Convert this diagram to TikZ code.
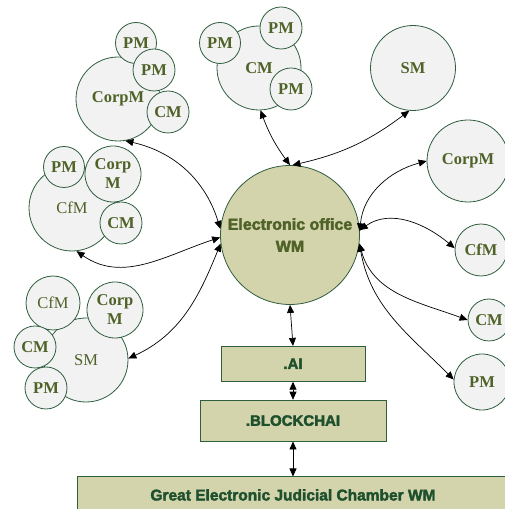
\documentclass[tikz,border=0pt]{standalone}
\usepackage{fontspec}
\setmainfont{Liberation Serif}
\setsansfont{Liberation Sans}[BoldFeatures={FakeBold=2.5}]
\usetikzlibrary{positioning,arrows.meta}
\definecolor{olivefill}{RGB}{211,211,172}
\definecolor{greyfill}{RGB}{242,242,242}
\definecolor{rimgreen}{RGB}{47,94,63}
\definecolor{olivetext}{RGB}{79,98,40}
\definecolor{boxtext}{RGB}{30,80,45}

\begin{document}
\begin{tikzpicture}[
	x=1pt, y=1pt,
	hub/.style = {circle, draw=rimgreen, fill=olivefill, line width=0.8pt, minimum size=139pt, inner sep=0pt, align=center, text=olivetext, font=\sffamily\bfseries\fontsize{16}{22}\selectfont},
	member/.style = {circle, draw=rimgreen, fill=greyfill, line width=0.8pt, inner sep=0pt, align=center, text=olivetext, font=\fontsize{16.5}{19}\selectfont\bfseries},
	lightlabel/.style = {font=\fontsize{16.5}{19}\selectfont},
	layer/.style = {rectangle, draw=rimgreen, fill=olivefill, line width=0.8pt, inner sep=0pt, text=boxtext, font=\sffamily\bfseries\fontsize{15}{18}\selectfont},
	link/.style = {{Triangle[length=8pt,width=7pt]}-{Triangle[length=8pt,width=7pt]}, line width=0.7pt},
]
\useasboundingbox (0,0) rectangle (505,509);

% centre
\node[hub] (office) at (290,274) {Electronic office\\WM};
\node[layer, minimum width=144pt, minimum height=35pt] (ai) [below=41pt of office, xshift=3pt] {.AI};
\node[layer, minimum width=186pt, minimum height=41pt] (chain) [below=18pt of ai] {.BLOCKCHAI};
\node[layer, minimum width=432pt, minimum height=36pt, font=\sffamily\bfseries\fontsize{15.5}{18}\selectfont] (chamber) [below=35pt of chain] {Great Electronic Judicial Chamber WM};

% corporate cluster
\node[member, minimum size=84pt] (corpmA) at (118,410) {CorpM};
\node[member, minimum size=41pt] (pmA1) at (136,466) {PM};
\node[member, minimum size=42pt] (pmA2) at (154,439) {PM};
\node[member, minimum size=42pt] (cmA) at (168,397) {CM};

% fund cluster
\node[member, lightlabel, minimum size=86pt] (cfmB) at (72,301) {CfM};
\node[member, minimum size=41pt] (pmB) at (64,342) {PM};
\node[member, minimum size=56pt] (corpmB) at (113,335) {Corp\\M};
\node[member, minimum size=42pt] (cmB) at (121,286) {CM};

% state cluster
\node[member, lightlabel, minimum size=84pt] (smC) at (86,149) {SM};
\node[member, lightlabel, minimum size=54pt] (cfmC) at (53,206) {CfM};
\node[member, minimum size=56pt] (corpmC) at (115,199) {Corp\\M};
\node[member, minimum size=42pt] (cmC) at (35,162) {CM};
\node[member, minimum size=42pt] (pmC) at (46,121) {PM};

% municipal cluster
\node[member, minimum size=84pt] (cmD) at (259,441) {CM};
\node[member, minimum size=41pt] (pmD1) at (220,466) {PM};
\node[member, minimum size=42pt] (pmD2) at (281,481) {PM};
\node[member, minimum size=42pt] (pmD3) at (291,420) {PM};

% single members
\node[member, minimum size=85pt] (smE) at (413,441) {SM};
\node[member, minimum size=82pt] (corpmF) at (468,348) {CorpM};
\node[member, minimum size=52pt] (cfmF) at (481,259) {CfM};
\node[member, minimum size=42pt] (cmF) at (489,189) {CM};
\node[member, minimum size=56pt] (pmF) at (482,127) {PM};

\draw[link] (office.south) -- (ai.north);
\draw[link] (ai.south) -- (chain.north);
\draw[link] (chain.south) -- (chamber.north);
\draw[link] (corpmA.-80) to[bend left=30] (office.175);
\draw[link] (cfmB.-84) to[out=-35, in=198] (office.182);
\draw[link] (smC.2) to[out=25, in=-112] (office.187);
\draw[link] (cmD.-88) to[bend right=8] (office.north);
\draw[link] (smE.-95) to[bend left=12] (office.88);
\draw[link] (office.3) to[out=85, in=195] (corpmF.west);
\draw[link] (office.4) to[out=35, in=140] (cfmF.176);
\draw[link] (office.-7) to[out=-75, in=160] (cmF.west);
\draw[link] (office.-7) to[out=-80, in=135] (pmF.175);
\end{tikzpicture}
\end{document}
